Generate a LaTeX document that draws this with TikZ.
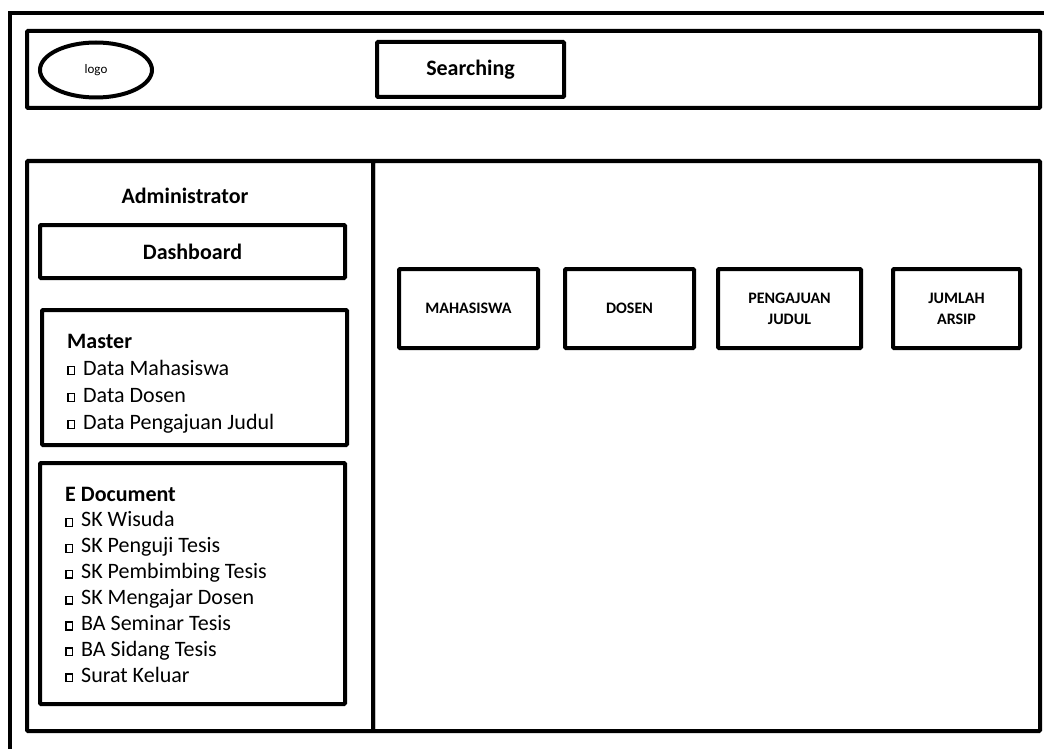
\documentclass[tikz,border=0pt]{standalone}
\usepackage{fontspec}
\setmainfont{Carlito}
\usetikzlibrary{shapes.geometric}

\newcommand{\bx}{\makebox[16pt][l]{\raisebox{1.3pt}{\fboxsep=0pt\fboxrule=1.3pt\fbox{\rule{0pt}{6.5pt}\hspace{5.5pt}}}}}

\tikzset{
  wire/.style={line width=4pt},
  panel/.style={draw, line width=4pt, rounded corners=1pt, inner sep=0pt},
  box/.style={panel, align=center, font=\bfseries\fontsize{16}{21}\selectfont},
  item/.style={inner sep=0pt, anchor=base west, font=\fontsize{22}{26}\selectfont},
  head/.style={inner sep=0pt, anchor=base west, font=\bfseries\fontsize{22}{26}\selectfont},
}

\begin{document}
\begin{tikzpicture}[x=1pt,y=-1pt]
  \useasboundingbox (0,0) rectangle (1044,749);
  \draw[wire] (10,749) -- (10,13) -- (1044,13);

  \node[panel, minimum width=1013pt, minimum height=77pt] (header) at (533.5,69.5) {};
  \node[panel, ellipse, minimum width=112pt, minimum height=55pt, font=\fontsize{13}{13}\selectfont] (logo) at (96,70) {logo};
  \node[panel, minimum width=187pt, minimum height=55pt, font=\bfseries\fontsize{22}{26}\selectfont] (search) at (470.5,69.5) {Searching};

  \node[panel, minimum width=346pt, minimum height=570pt] (menu) at (200,446) {};
  \node[panel, minimum width=667pt, minimum height=570pt] (content) at (706.5,446) {};

  \node[inner sep=0pt, anchor=base, font=\bfseries\fontsize{22}{26}\selectfont] (admin) at (185,203) {Administrator};
  \node[panel, minimum width=305pt, minimum height=53pt, font=\bfseries\fontsize{22}{26}\selectfont] (dash) at (192.5,251.5) {Dashboard};

  \node[panel, minimum width=305pt, minimum height=135pt] (master) at (194.5,377.5) {};
  \node[head] (mastertitle) at (67,348) {Master};
  \foreach \t [count=\i] in {Data Mahasiswa, Data Dosen, Data Pengajuan Judul}
    \node[item] (m\i) at (67,{348+27*\i}) {\bx\t};

  \node[panel, minimum width=305pt, minimum height=241pt] (edoc) at (192.5,583.5) {};
  \node[head] (edoctitle) at (65,501) {E Document};
  \foreach \t [count=\i] in {SK Wisuda, SK Penguji Tesis, SK Pembimbing Tesis, SK Mengajar Dosen, BA Seminar Tesis, BA Sidang Tesis, Surat Keluar}
    \node[item] (e\i) at (65,{501+25.9*\i}) {\bx\t};

  \node[box, minimum width=139pt, minimum height=79pt] (mhs) at (468.5,308.5) {MAHASISWA};
  \node[box, minimum width=129pt, minimum height=79pt] (dsn) at (629.5,308.5) {DOSEN};
  \node[box, minimum width=143pt, minimum height=79pt] (judul) at (789.5,308.5) {PENGAJUAN\\JUDUL};
  \node[box, minimum width=127pt, minimum height=79pt] (arsip) at (956.5,308.5) {JUMLAH\\ARSIP};
\end{tikzpicture}
\end{document}
